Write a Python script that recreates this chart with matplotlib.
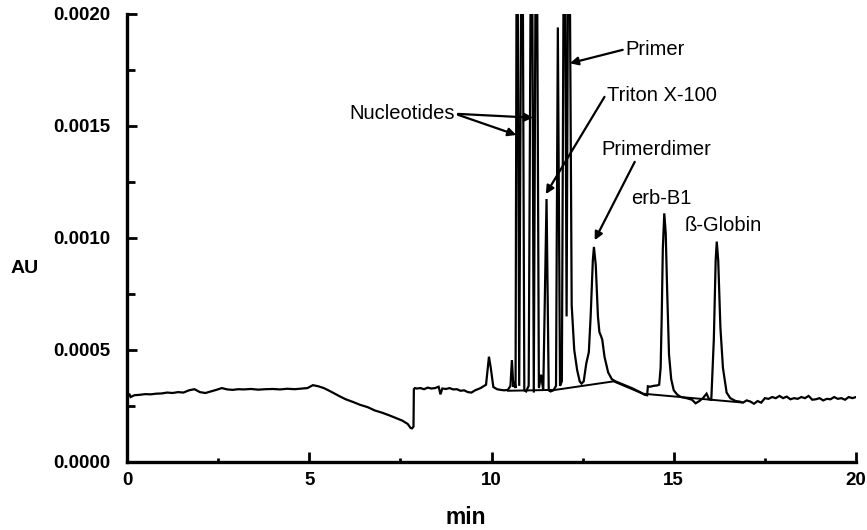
import matplotlib
matplotlib.use("Agg")
import matplotlib.pyplot as plt
from matplotlib.ticker import MultipleLocator, FormatStrFormatter

plt.rcParams['font.family'] = ['Liberation Sans', 'DejaVu Sans']

# ---- chromatogram trace (time in min, absorbance in 1e-4 AU) ----
time_min = [
    0.00, 0.03, 0.06, 0.10, 0.20, 0.35, 0.50, 0.65, 0.80, 0.95, 1.10, 1.25, 1.40, 1.55,
    1.70, 1.85, 2.00, 2.15, 2.30, 2.45, 2.60, 2.75, 2.90, 3.05, 3.20, 3.40, 3.60, 3.80,
    4.00, 4.20, 4.40, 4.60, 4.80, 4.95, 5.10, 5.25, 5.40, 5.55, 5.70, 5.85, 6.00, 6.20,
    6.40, 6.60, 6.80, 7.00, 7.20, 7.40, 7.55, 7.70, 7.78, 7.82, 7.86,
    7.87, 7.90, 7.95, 8.05, 8.15, 8.25, 8.35, 8.45, 8.55, 8.60, 8.65, 8.75, 8.85, 8.95,
    9.05, 9.15, 9.25, 9.35, 9.45, 9.55, 9.70, 9.85, 9.93, 9.98, 10.05, 10.15, 10.25,
    10.35, 10.45,
    10.52, 10.56, 10.60, 10.63, 10.66, 10.70, 10.76, 10.84, 10.90, 10.95, 11.02, 11.10,
    11.16, 11.23, 11.30, 11.36, 11.42, 11.51, 11.57, 11.62, 11.70, 11.77, 11.82, 11.88,
    11.93, 12.00, 12.06, 12.12, 12.20, 12.27, 12.35, 12.42, 12.47,
    12.53, 12.60, 12.67, 12.72, 12.78, 12.81, 12.86, 12.92, 12.96, 13.01, 13.04, 13.10,
    13.20, 13.30, 13.40, 13.55, 13.70, 13.85, 14.00, 14.10, 14.20, 14.27, 14.29, 14.35,
    14.45, 14.55, 14.60, 14.64, 14.67, 14.70, 14.74, 14.78, 14.82, 14.87, 14.93, 15.00,
    15.10, 15.20, 15.35,
    15.50, 15.60, 15.70, 15.80, 15.90, 15.97, 16.03, 16.10, 16.15, 16.18, 16.22, 16.28,
    16.35, 16.45, 16.55, 16.70, 16.80, 16.90, 17.00, 17.10, 17.20, 17.30, 17.40, 17.50,
    17.60, 17.70, 17.80, 17.90, 18.00, 18.10, 18.20, 18.30, 18.40, 18.50, 18.60, 18.70,
    18.80, 18.90, 19.00, 19.10, 19.20, 19.30, 19.40, 19.50, 19.60, 19.70, 19.80, 19.90,
    20.00,
]
absorbance_e4 = [
    3.25, 2.95, 3.05, 2.90, 2.98, 3.00, 3.03, 3.02, 3.05, 3.06, 3.10, 3.08, 3.12, 3.10,
    3.20, 3.25, 3.12, 3.08, 3.15, 3.22, 3.30, 3.24, 3.22, 3.25, 3.24, 3.26, 3.23, 3.25,
    3.26, 3.24, 3.27, 3.25, 3.28, 3.30, 3.43, 3.38, 3.30, 3.18, 3.05, 2.92, 2.80, 2.68,
    2.55, 2.45, 2.30, 2.20, 2.08, 1.95, 1.85, 1.70, 1.52, 1.50, 1.58,
    3.25, 3.30, 3.28, 3.30, 3.25, 3.32, 3.28, 3.30, 3.36, 3.02, 3.28, 3.26, 3.30, 3.24,
    3.25, 3.18, 3.20, 3.12, 3.10, 3.20, 3.30, 3.45, 4.70, 4.20, 3.35, 3.25, 3.22,
    3.20, 3.22,
    3.40, 4.55, 3.35, 3.60, 3.30, 30.0, 3.40, 30.0, 3.20, 3.15, 3.40, 30.0,
    3.10, 30.0, 3.30, 3.90, 3.20, 11.74, 3.20, 3.15, 3.20, 3.40, 19.4, 3.40,
    3.60, 30.0, 6.50, 30.0, 7.00, 5.00, 4.10, 3.60, 3.50,
    3.60, 4.40, 4.90, 6.50, 9.00, 9.60, 8.80, 6.50, 5.80, 5.60, 5.45, 4.70,
    4.00, 3.70, 3.60, 3.50, 3.40, 3.30, 3.18, 3.10, 3.00, 2.98, 3.38, 3.36,
    3.40, 3.42, 3.45, 4.20, 6.50, 9.50, 11.1, 10.2, 7.60, 4.80, 3.70, 3.20,
    3.00, 2.90, 2.85,
    2.78, 2.62, 2.72, 2.85, 3.05, 2.80, 2.78, 5.50, 9.00, 9.84, 9.00, 6.00,
    4.20, 3.10, 2.85, 2.72, 2.70, 2.65, 2.75, 2.70, 2.60, 2.72, 2.65, 2.85,
    2.82, 2.90, 2.85, 2.95, 2.85, 2.92, 2.80, 2.85, 2.82, 2.90, 2.85, 2.95,
    2.78, 2.80, 2.85, 2.75, 2.82, 2.80, 2.90, 2.82, 2.85, 2.78, 2.90, 2.85,
    2.90,
]

# ---- integration baseline drawn under the peaks ----
baseline_time = [10.45, 11.75, 13.35, 14.15, 16.85]
baseline_e4 = [3.18, 3.22, 3.60, 3.05, 2.66]

# ---- peak labels: (text, text x, text y, arrow targets) ----
labels = ["Nucleotides", "Primer", "Triton X-100", "Primerdimer", "erb-B1", "ß-Globin"]
label_x = [6.09, 13.66, 13.18, 13.02, 13.84, 15.30]
label_y = [0.001554, 0.00184, 0.001634, 0.001393, 0.001177, 0.001058]
arrow_from = [[(9.08, 0.001554), (9.08, 0.001550)], [(13.60, 0.00184)], [(13.10, 0.00163)],
              [(13.93, 0.00134)], [], []]
arrow_to = [[(11.14, 0.001537), (10.68, 0.00146)], [(12.15, 0.00178)], [(11.49, 0.001196)],
            [(12.83, 0.00099)], [], []]

x_ticks = [0, 5, 10, 15, 20]
y_ticks = [0.0, 0.0005, 0.0010, 0.0015, 0.0020]

fig = plt.figure(figsize=(8.67, 5.30), dpi=100)
ax = fig.add_axes([127 / 867, 1 - 462 / 530, 729 / 867, 448 / 530])

ax.plot(time_min, [v * 1e-4 for v in absorbance_e4], color='black', lw=1.6, solid_joinstyle='miter')
ax.plot(baseline_time, [v * 1e-4 for v in baseline_e4], color='black', lw=1.4)

ax.set_xlim(0, 20)
ax.set_ylim(0, 0.0020)
for s in ['top', 'right']:
    ax.spines[s].set_visible(False)
for s in ['left', 'bottom']:
    ax.spines[s].set_linewidth(2.4)

ax.set_xticks(x_ticks)
ax.set_yticks(y_ticks)
ax.xaxis.set_minor_locator(MultipleLocator(2.5))
ax.yaxis.set_minor_locator(MultipleLocator(0.00025))
ax.yaxis.set_major_formatter(FormatStrFormatter('%.4f'))
ax.tick_params(axis='both', which='major', direction='in', length=7, width=2.0, labelsize=13.5)
ax.tick_params(axis='y', which='minor', direction='in', length=6, width=2.0)
ax.tick_params(axis='x', which='minor', direction='in', length=3, width=2.0)
ax.tick_params(axis='y', which='major', pad=12)
ax.tick_params(axis='x', which='major', pad=7)
for lab in ax.get_xticklabels() + ax.get_yticklabels():
    lab.set_fontweight('bold')

ax.set_xlabel('min', fontsize=16.5, fontweight='bold')
ax.xaxis.set_label_coords(0.465, -0.125)
ax.xaxis.label.set_va('center')
ax.set_ylabel('AU', fontsize=14, fontweight='bold', rotation=0)
ax.yaxis.set_label_coords(-0.141, 0.433)
ax.yaxis.label.set_va('center')
ax.yaxis.label.set_ha('center')

for txt, tx, ty, froms, tos in zip(labels, label_x, label_y, arrow_from, arrow_to):
    ax.text(tx, ty, txt, fontsize=14.5, ha='left', va='center', clip_on=False)
    for (fx, fy), (hx, hy) in zip(froms, tos):
        ax.annotate('', xy=(hx, hy), xytext=(fx, fy),
                    arrowprops=dict(arrowstyle='-|>', lw=1.6, color='black',
                                    mutation_scale=12, shrinkA=0, shrinkB=0))

fig.savefig('out.png', dpi=100)
